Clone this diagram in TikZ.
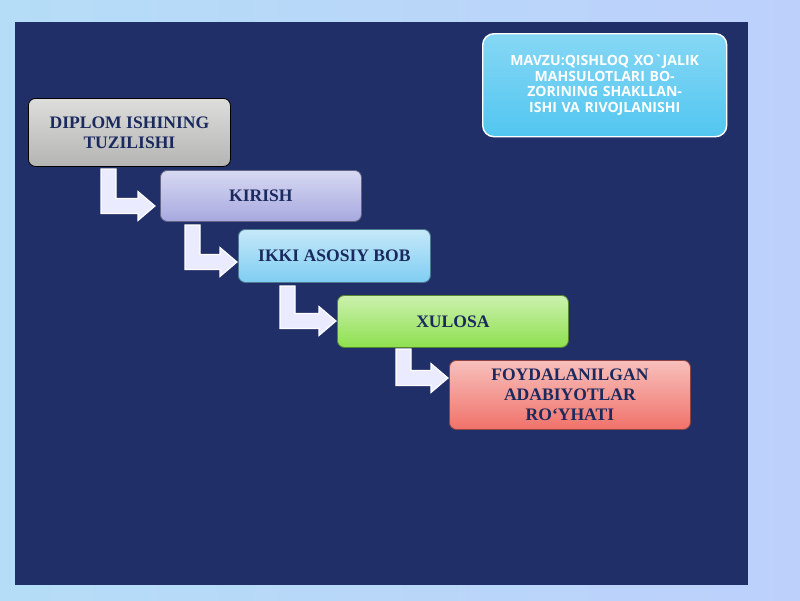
\documentclass[tikz,border=0pt]{standalone}
\usepackage{fontspec}
\setmainfont{Liberation Serif}
\newfontfamily\headfont{Open Sans}
\usetikzlibrary{positioning, calc}
\definecolor{panelnavy}{HTML}{212F68}
\definecolor{skyblue}{HTML}{B5DDF7}
\definecolor{textnavy}{HTML}{1B2A5E}
\definecolor{stepgray}{HTML}{B4B4B2}
\definecolor{steplav}{HTML}{A7A9E0}
\definecolor{stepblue}{HTML}{7FCDF2}
\definecolor{stepgreen}{HTML}{8EE04E}
\definecolor{stepred}{HTML}{F0726A}
\definecolor{titlecyan}{HTML}{52C6F0}

\newcommand{\bentarrow}[4]{% stem left, top, tip x, middle y
  \fill[arrowfill, draw=white, line width=0.8pt]
    (#1,#2) -- ++(15,0) -- (#1+15,#4-7.5) -- (#3-17,#4-7.5) -- (#3-17,#4-14.5)
    -- (#3,#4) -- (#3-17,#4+14.5) -- (#3-17,#4+7.5) -- (#1,#4+7.5) -- cycle;
}

\begin{document}
\begin{tikzpicture}[
    x=0.025cm, y=-0.025cm,
    arrowfill/.style={fill=blue!8!white},
    step/.style={
        rectangle,
        rounded corners=5pt,
        draw=#1!60!black,
        line width=0.6pt,
        top color=#1!45!white,
        bottom color=#1,
        font=\bfseries\fontsize{12.5}{14}\selectfont,
        text=textnavy,
        align=center,
        anchor=north west,
        inner sep=0pt
    }
]

% Background
\useasboundingbox (0,0) rectangle (800,600);
\shade[left color=skyblue, right color=skyblue!80!blue!60!white] (0,0) rectangle (800,600);
\fill[panelnavy] (15,22) rectangle (748,585);

% Steps
\node[step=stepgray, draw=black, minimum width=202*0.025cm, minimum height=68*0.025cm] (diplom) at (28,98) {DIPLOM ISHINING\\TUZILISHI};
\node[step=steplav, minimum width=201*0.025cm, minimum height=51*0.025cm] (kirish) at (160,170) {KIRISH};
\node[step=stepblue, minimum width=192*0.025cm, minimum height=53*0.025cm] (asosiy) at (238,229) {IKKI ASOSIY BOB};
\node[step=stepgreen, minimum width=231*0.025cm, minimum height=52*0.025cm] (xulosa) at (337,295) {XULOSA};
\node[step=stepred, minimum width=241*0.025cm, minimum height=69*0.025cm] (adabiyot) at (449,360) {FOYDALANILGAN\\ADABIYOTLAR\\RO`YHATI};

% Title
\node[rectangle, rounded corners=8pt, draw=white, line width=1pt, top color=titlecyan!70!white, bottom color=titlecyan,
      anchor=north west, minimum width=244*0.025cm, minimum height=103*0.025cm, text width=5.6cm, align=center,
      font=\headfont\bfseries\fontsize{10}{11}\selectfont, text=white] (mavzu) at (482,33)
      {MAVZU:QISHLOQ XO`JALIK MAHSULOTLARI BOZORINING SHAKLLANISHI VA RIVOJLANISHI};

% Arrows
\bentarrow{101}{169}{155}{206}
\bentarrow{185}{225}{237}{262}
\bentarrow{280}{286}{336}{321}
\bentarrow{396}{349}{448}{378}

\end{tikzpicture}
\end{document}
